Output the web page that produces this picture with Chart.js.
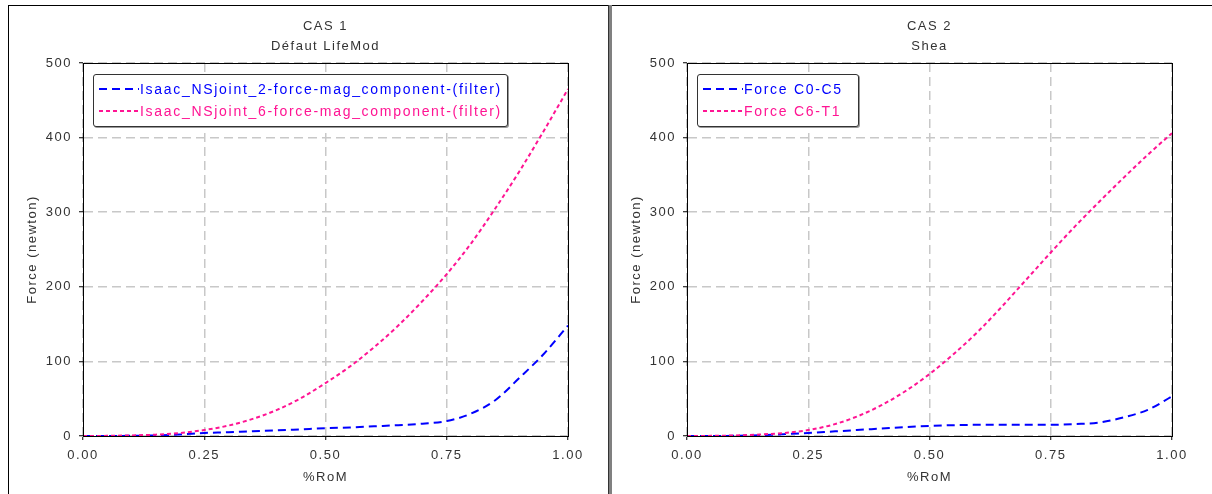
<!DOCTYPE html>
<html>
<head>
<meta charset="utf-8">
<script src="https://cdn.jsdelivr.net/npm/chart.js@4.4.1/dist/chart.umd.min.js"></script>
<style>
  html, body { margin: 0; padding: 0; background: #fff; overflow: hidden; }
  body { width: 1212px; height: 494px; position: relative; font-family: "Liberation Sans", Arial, sans-serif; }
  .frame-top { position: absolute; left: 8px; top: 5px; width: 1204px; height: 1px; background: #000; }
  .frame-left { position: absolute; left: 8px; top: 5px; width: 1px; height: 489px; background: #000; }
  .sep-dark { position: absolute; left: 608px; top: 5px; width: 1px; height: 489px; background: #333; }
  .sep { position: absolute; left: 609px; top: 5px; width: 3px; height: 489px; background: #808080; }
  canvas { position: absolute; }
  .legend {
    position: absolute; border: 1px solid #333; border-radius: 3px; background: #fff;
    box-shadow: 1px 1px 0 #999; font-size: 14px; letter-spacing: 1.7px; box-sizing: border-box;
    padding-top: 3px;
  }
  .legend .row { height: 22px; line-height: 22px; white-space: nowrap; display: flex; align-items: center; }
  .legend svg { margin-left: 5px; margin-right: 1px; flex: none; }
</style>
</head>
<body>
<div class="frame-top"></div>
<div class="frame-left"></div>
<div class="sep-dark"></div>
<div class="sep"></div>

<canvas id="cas1" width="600" height="488" style="left:9px; top:6px; width:600px; height:488px;"></canvas>
<canvas id="cas2" width="599" height="488" style="left:613px; top:6px; width:599px; height:488px;"></canvas>

<div class="legend" id="leg1" style="left:93px; top:74px; width:415px; height:53px;"></div>
<div class="legend" id="leg2" style="left:697px; top:74px; width:162px; height:53px;"></div>

<script>
// %RoM (abscisse commune)
const rom = [0, 0.05, 0.1, 0.15, 0.2, 0.25, 0.3, 0.35, 0.4, 0.45, 0.5,
             0.55, 0.6, 0.65, 0.7, 0.75, 0.8, 0.85, 0.9, 0.95, 1.0];

// CAS 1 - Défaut LifeMod
const cas1Labels = ['Isaac_NSjoint_2-force-mag_component-(filter)', 'Isaac_NSjoint_6-force-mag_component-(filter)'];
const cas1Joint2 = [0, 0, 0.3, 0.8, 2, 4, 5, 6.5, 7.5, 9, 10.5, 11.5, 13, 14.5, 16.5, 20, 30, 48, 78, 110, 148];
const cas1Joint6 = [0, 0.2, 0.8, 1.8, 4, 8, 14, 23, 35, 51, 71, 93, 119, 148, 181, 217, 258, 305, 355, 409, 465];

// CAS 2 - Shea
const cas2Labels = ['Force C0-C5', 'Force C6-T1'];
const cas2C0C5 = [0, 0, 0.3, 1, 2.5, 4, 6, 8, 10, 12, 13.5, 14.5, 15, 15, 15, 15, 16, 18, 25, 35, 53];
const cas2C6T1 = [0, 0.2, 0.8, 2, 4, 8, 15, 26, 41, 60, 83, 110, 140, 174, 210, 246, 281, 314, 346, 377, 406];

const xTicks = [0, 0.25, 0.5, 0.75, 1];
const yTicks = [0, 100, 200, 300, 400, 500];

const BLUE = '#0000ff';
const PINK = '#ff1493';
const blueDash = [8, 5];
const pinkDash = [4, 3];
const textColor = '#333';

// cadre noir autour de la zone de tracé + espacement des lettres
const framePlugin = {
    id: 'frame',
    beforeUpdate(chart) { chart.ctx.letterSpacing = '1.5px'; },
    beforeDraw(chart) { chart.ctx.letterSpacing = '1.5px'; },
    afterDraw(chart) {
        const { ctx, chartArea: a } = chart;
        ctx.save();
        ctx.strokeStyle = '#000';
        ctx.lineWidth = 1;
        ctx.strokeRect(Math.round(a.left) + 0.5, Math.round(a.top) + 0.5,
                       Math.round(a.right - a.left), Math.round(a.bottom - a.top));
        ctx.restore();
    }
};

function toPoints(values) {
    return values.map((v, i) => ({ x: rom[i], y: v }));
}

function makeChart(id, titleLines, labels, s1, s2, padRight) {
    const ctx = document.getElementById(id).getContext('2d');
    return new Chart(ctx, {
        type: 'line',
        data: {
            datasets: [
                { label: labels[1], data: toPoints(s2), borderColor: PINK, borderDash: pinkDash,
                  borderWidth: 2, pointRadius: 0, cubicInterpolationMode: 'monotone', fill: false },
                { label: labels[0], data: toPoints(s1), borderColor: BLUE, borderDash: blueDash,
                  borderWidth: 2, pointRadius: 0, cubicInterpolationMode: 'monotone', fill: false }
            ]
        },
        options: {
            responsive: false,
            animation: false,
            events: [],
            layout: { padding: { left: 0, top: 0, right: padRight, bottom: 0 } },
            plugins: {
                legend: { display: false },
                tooltip: { enabled: false },
                title: {
                    display: true,
                    fullSize: false,
                    text: titleLines,
                    color: textColor,
                    font: { family: '"Liberation Sans", Arial, sans-serif', size: 13, weight: 'normal', lineHeight: '20px' },
                    padding: { top: 10, bottom: 7 }
                }
            },
            scales: {
                x: {
                    type: 'linear',
                    min: 0, max: 1,
                    afterBuildTicks: s => { s.ticks = xTicks.map(v => ({ value: v })); },
                    afterFit: s => { s.height = 58; },
                    ticks: { color: textColor, padding: 8, maxRotation: 0,
                             font: { family: '"Liberation Sans", Arial, sans-serif', size: 13 },
                             callback: v => v.toFixed(2) },
                    grid: { color: '#c8c8c8', lineWidth: 1.5, tickColor: '#000', tickLength: 4, tickWidth: 1 },
                    border: { color: '#000', width: 1, dash: [9, 5] },
                    title: { display: true, text: '%RoM', color: textColor, padding: { top: 0, bottom: 9 },
                             font: { family: '"Liberation Sans", Arial, sans-serif', size: 13 } }
                },
                y: {
                    min: 0, max: 500,
                    afterBuildTicks: s => { s.ticks = yTicks.map(v => ({ value: v })); },
                    afterFit: s => { s.width = 74; },
                    ticks: { color: textColor, padding: 7,
                             font: { family: '"Liberation Sans", Arial, sans-serif', size: 13 } },
                    grid: { color: '#c8c8c8', lineWidth: 1.5, tickColor: '#000', tickLength: 4, tickWidth: 1 },
                    border: { color: '#000', width: 1, dash: [9, 5] },
                    title: { display: true, text: 'Force (newton)', color: textColor, padding: { top: 16, bottom: 0 },
                             font: { family: '"Liberation Sans", Arial, sans-serif', size: 13 } }
                }
            }
        },
        plugins: [framePlugin]
    });
}

function buildLegend(id, labels) {
    const box = document.getElementById(id);
    const styles = [
        { color: BLUE, dash: blueDash },
        { color: PINK, dash: pinkDash }
    ];
    labels.forEach((txt, i) => {
        const row = document.createElement('div');
        row.className = 'row';
        row.style.color = styles[i].color;
        row.innerHTML = '<svg width="40" height="4"><line x1="0" y1="2" x2="40" y2="2" stroke="' + styles[i].color +
            '" stroke-width="2" stroke-dasharray="' + styles[i].dash.join(',') + '"/></svg>';
        const span = document.createElement('span');
        span.textContent = txt;
        row.appendChild(span);
        box.appendChild(row);
    });
}

makeChart('cas1', ['CAS 1', 'Défaut LifeMod'], cas1Labels, cas1Joint2, cas1Joint6, 41);
makeChart('cas2', ['CAS 2', 'Shea'], cas2Labels, cas2C0C5, cas2C6T1, 40);
buildLegend('leg1', cas1Labels);
buildLegend('leg2', cas2Labels);
</script>
</body>
</html>
